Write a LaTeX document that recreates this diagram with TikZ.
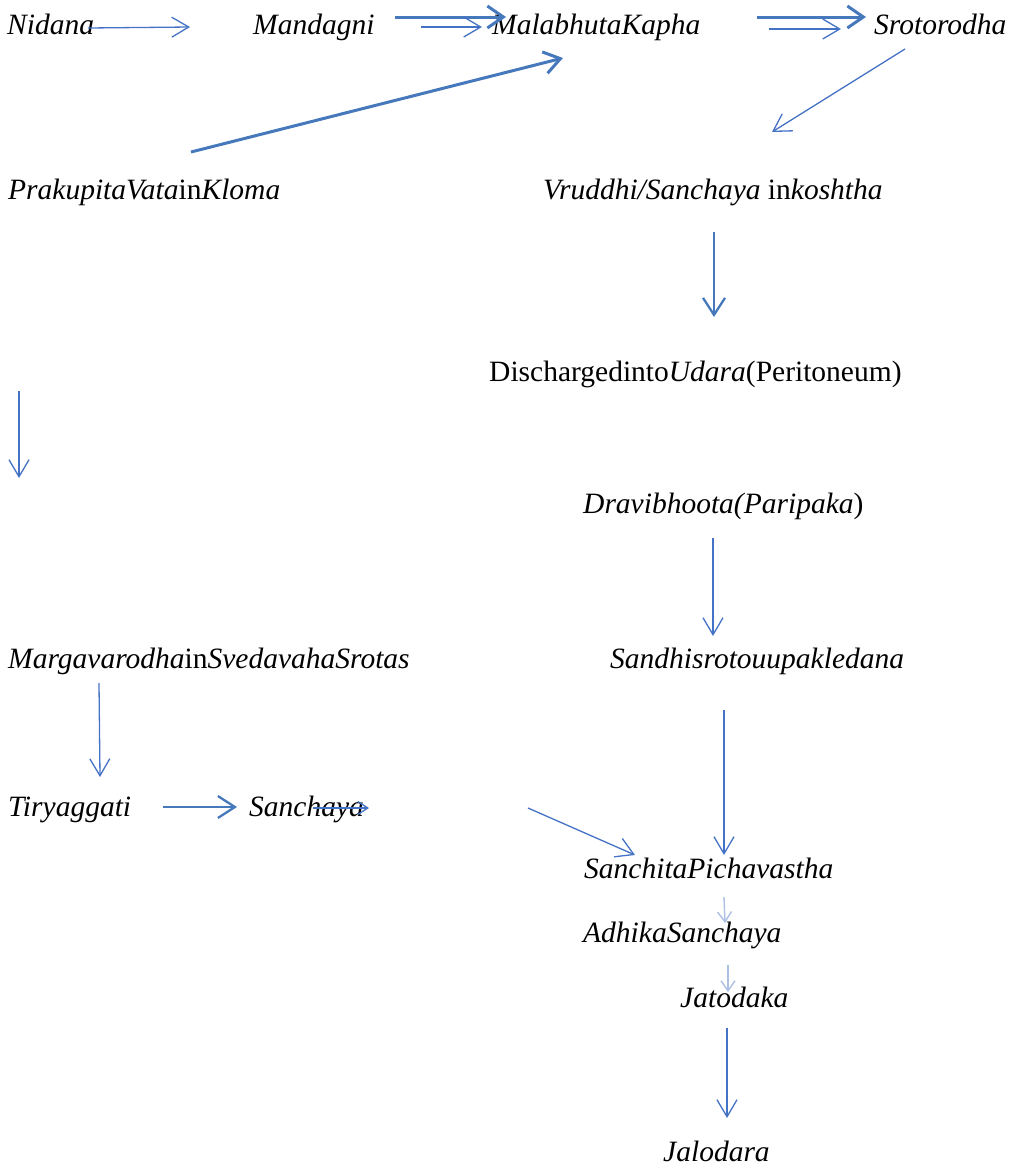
\documentclass[tikz,border=0pt]{standalone}
\usepackage{fontspec}
\setmainfont{Liberation Serif}
\usetikzlibrary{arrows.meta}
\definecolor{thinblue}{RGB}{68,114,196}
\definecolor{thickblue}{RGB}{70,120,188}
\tikzset{
  lbl/.style={anchor=base west, inner sep=0pt, font=\fontsize{29.5}{35}\selectfont},
  thinarr/.style={draw=thinblue, line width=1.3pt, -{Straight Barb[length=17pt,width=20pt]}},
  midarr/.style={draw=thickblue, line width=2.3pt, -{Straight Barb[length=17pt,width=22pt]}},
  thickarr/.style={draw=thickblue, line width=3pt, -{Straight Barb[length=16pt,width=22pt]}},
  smallarr/.style={draw=thinblue, line width=1.3pt, -{Straight Barb[length=10pt,width=13pt]}},
  faintarr/.style={draw=thinblue!45, line width=1.4pt, -{Straight Barb[length=10pt,width=14pt]}}
}
\begin{document}
\begin{tikzpicture}[x=1pt,y=-1pt]
\useasboundingbox (0,0) rectangle (1013,1168);
% nodes
\node[lbl] (nidana) at (7,34) {\textit{Nidana}};
\node[lbl] (mandagni) at (253,34) {\textit{Mandagni}};
\node[lbl] (malabhuta) at (492,34) {\textit{MalabhutaKapha}};
\node[lbl] (sroto) at (874,34) {\textit{Srotorodha}};
\node[lbl] (prakupita) at (8,199) {\textit{PrakupitaVata}in\textit{Kloma}};
\node[lbl] (vruddhi) at (543,199) {\textit{Vruddhi/Sanchaya} in\textit{koshtha}};
\node[lbl] (discharged) at (489,381) {Dischargedinto\textit{Udara}(Peritoneum)};
\node[lbl] (dravi) at (583,513) {\textit{Dravibhoota(Paripaka})};
\node[lbl] (marga) at (8,668) {\textit{Margavarodha}in\textit{SvedavahaSrotas}};
\node[lbl] (sandhi) at (610,668) {\textit{Sandhisrotouupakledana}};
\node[lbl] (tiryag) at (8,816) {\textit{Tiryaggati}};
\node[lbl] (sanchaya) at (249,816) {\textit{Sanchaya}};
\node[lbl] (sanchita) at (584,878) {\textit{SanchitaPichavastha}};
\node[lbl] (adhika) at (583,942) {\textit{AdhikaSanchaya}};
\node[lbl] (jatodaka) at (680,1007) {\textit{Jatodaka}};
\node[lbl] (jalodara) at (663,1161) {\textit{Jalodara}};
% connector end points
\coordinate (a1s) at (88,28);   \coordinate (a1e) at (190,27);
\coordinate (a2s) at (395,17);  \coordinate (a2e) at (506,17);
\coordinate (a3s) at (421,27);  \coordinate (a3e) at (482,27);
\coordinate (a4s) at (757,17);  \coordinate (a4e) at (866,17);
\coordinate (a5s) at (769,29);  \coordinate (a5e) at (841,29);
\coordinate (a6s) at (191,152); \coordinate (a6e) at (563,58);
\coordinate (a7s) at (905,49);  \coordinate (a7e) at (772,132);
\coordinate (a8s) at (714,232); \coordinate (a8e) at (714,317);
\coordinate (a9s) at (19,391);  \coordinate (a9e) at (19,478);
\coordinate (a10s) at (713,538); \coordinate (a10e) at (713,636);
\coordinate (a11s) at (99,683); \coordinate (a11e) at (100,777);
\coordinate (a12s) at (163,807); \coordinate (a12e) at (237,807);
\coordinate (a13s) at (313,808); \coordinate (a13e) at (369,808);
\coordinate (a14s) at (528,808); \coordinate (a14e) at (635,855);
\coordinate (a15s) at (724,710); \coordinate (a15e) at (724,855);
\coordinate (a16s) at (724,897); \coordinate (a16e) at (725,923);
\coordinate (a17s) at (728,965); \coordinate (a17e) at (728,992);
\coordinate (a18s) at (727,1028); \coordinate (a18e) at (727,1118);
% connectors
\draw[thinarr] (a1s) -- (a1e);
\draw[thickarr] (a2s) -- (a2e);
\draw[thinarr] (a3s) -- (a3e);
\draw[thickarr] (a4s) -- (a4e);
\draw[thinarr] (a5s) -- (a5e);
\draw[thickarr] (a6s) -- (a6e);
\draw[thinarr] (a7s) -- (a7e);
\draw[midarr] (a8s) -- (a8e);
\draw[thinarr] (a9s) -- (a9e);
\draw[thinarr] (a10s) -- (a10e);
\draw[thinarr] (a11s) -- (a11e);
\draw[midarr] (a12s) -- (a12e);
\draw[smallarr] (a13s) -- (a13e);
\draw[thinarr] (a14s) -- (a14e);
\draw[thinarr] (a15s) -- (a15e);
\draw[faintarr] (a16s) -- (a16e);
\draw[faintarr] (a17s) -- (a17e);
\draw[thinarr] (a18s) -- (a18e);
\end{tikzpicture}
\end{document}
